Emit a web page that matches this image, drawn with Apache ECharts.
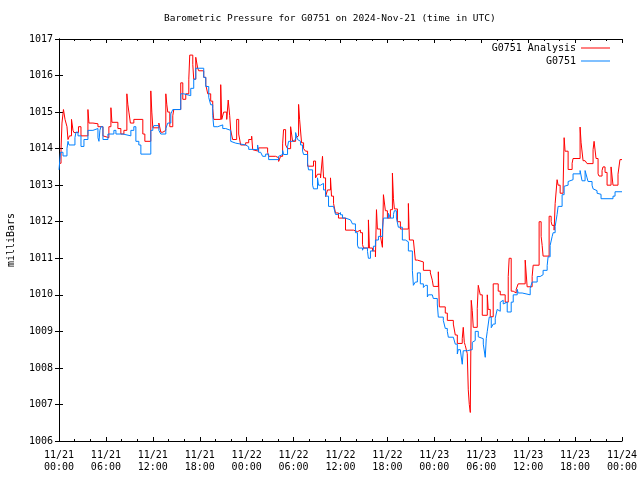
<!DOCTYPE html>
<html>
<head>
<meta charset="utf-8">
<script src="https://cdn.jsdelivr.net/npm/echarts@6/dist/echarts.min.js"></script>
<style>html,body{margin:0;padding:0;background:#fff}#c{width:640px;height:480px}</style>
</head>
<body>
<div id="c"></div>
<script>
// Hours since 2024-11-21 00:00 UTC and pressure (mb)
const analysisHours = [0,0.26,0.38,0.57,0.77,1.02,1.15,1.34,1.60,1.79,1.91,2.49,2.81,3.70,3.83,4.34,4.98,5.62,5.87,6.38,6.64,6.77,7.53,7.91,8.30,8.68,8.81,8.94,9.13,9.57,10.72,10.98,11.74,11.87,12.00,12.77,13.02,13.28,13.66,13.79,13.91,14.17,14.55,14.68,15.57,15.83,16.21,16.60,16.72,17.11,17.23,17.49,17.74,17.87,18.51,18.77,19.02,19.40,19.66,19.79,20.68,20.81,21.06,21.45,21.64,21.83,21.96,22.21,22.72,22.98,23.23,23.87,24.26,24.64,24.77,24.89,25.53,26.68,26.81,27.70,28.09,28.34,28.60,28.72,28.98,29.23,29.62,29.87,30.26,30.51,30.64,30.77,31.02,31.28,31.53,31.79,32.55,32.81,33.06,33.45,33.70,33.83,34.09,34.34,34.72,34.85,35.11,35.36,35.74,36.64,37.66,38.17,38.55,38.81,38.94,39.57,39.70,40.09,40.47,40.60,40.72,41.11,41.36,41.49,41.74,42.00,42.38,42.64,42.77,42.89,43.28,43.66,44.68,44.81,45.32,45.57,45.83,46.60,47.49,47.74,47.87,48.51,48.64,49.40,49.66,50.43,50.68,50.94,51.57,51.70,51.83,51.96,52.21,52.34,52.47,52.60,52.72,52.85,52.98,53.49,53.62,53.87,54.13,54.77,54.89,55.15,55.53,56.17,56.43,57.06,57.45,57.57,57.83,58.09,58.47,58.72,59.62,59.87,60.51,60.64,61.40,61.66,61.79,61.91,62.68,62.94,63.06,63.32,63.45,63.70,63.83,64.09,64.47,64.60,64.72,65.11,65.62,65.74,66.64,66.77,67.02,67.28,67.53,68.30,68.43,68.68,68.94,69.06,69.45,69.57,69.83,70.09,70.60,70.85,71.49,71.74,72.0];
const analysisValues = [1013.6,1014.0,1014.7,1015.07,1014.8,1014.6,1014.25,1014.35,1014.8,1014.5,1014.44,1014.6,1014.35,1015.07,1014.7,1014.68,1014.6,1014.35,1014.3,1014.6,1015.12,1014.72,1014.55,1014.4,1014.5,1015.5,1015.2,1015.0,1014.7,1014.8,1014.4,1014.2,1015.58,1015.0,1014.57,1014.7,1014.45,1014.5,1015.5,1015.2,1015.0,1014.6,1014.9,1015.07,1015.8,1015.35,1015.5,1015.9,1016.56,1016.3,1015.9,1016.5,1016.2,1016.13,1015.95,1015.75,1015.5,1015.3,1015.1,1014.8,1015.75,1014.8,1015.0,1014.8,1015.33,1014.9,1014.5,1014.25,1014.8,1014.4,1014.1,1014.16,1014.25,1014.34,1013.97,1013.93,1014.02,1013.9,1013.79,1013.75,1013.65,1013.79,1014.13,1014.52,1014.1,1014.0,1014.6,1014.2,1014.3,1014.35,1015.21,1014.8,1014.16,1014.0,1013.93,1013.52,1013.66,1013.2,1013.3,1013.2,1013.79,1013.2,1012.69,1012.87,1013.2,1012.7,1012.5,1012.24,1012.1,1011.77,1011.73,1011.77,1011.7,1011.38,1011.28,1012.05,1011.28,1011.2,1011.04,1012.33,1011.8,1011.6,1011.3,1012.74,1012.3,1012.1,1012.33,1013.33,1012.63,1012.35,1012.0,1011.8,1012.5,1011.5,1011.45,1010.95,1010.9,1010.67,1010.6,1010.4,1010.23,1010.63,1009.67,1009.5,1009.3,1009.2,1008.9,1008.67,1008.8,1009.11,1008.7,1008.61,1008.39,1007.4,1007.0,1006.78,1009.85,1009.57,1009.11,1009.63,1010.26,1010.0,1009.44,1010.0,1009.6,1009.4,1010.3,1010.1,1010.0,1009.8,1010.5,1011.0,1010.1,1010.05,1010.15,1010.3,1010.95,1010.22,1010.5,1010.81,1012.0,1011.6,1011.35,1011.06,1012.15,1012.0,1011.9,1011.77,1012.5,1013.15,1013.0,1012.78,1012.95,1014.3,1013.93,1013.43,1013.6,1013.73,1014.59,1014.16,1013.67,1013.7,1013.59,1013.97,1014.2,1013.73,1013.31,1013.25,1013.4,1013.5,1013.35,1013.0,1013.5,1013.0,1013.3,1013.7,1013.7];

const obsHours = [0,0.19,0.51,1.02,1.15,1.28,2.04,2.17,2.43,2.81,3.19,3.70,4.34,4.98,5.11,5.23,5.36,5.62,6.26,7.02,7.28,8.17,9.19,9.57,9.83,10.21,10.47,11.74,12.00,12.13,12.77,13.02,13.66,13.91,14.30,14.55,15.57,15.96,16.85,17.23,17.49,18.51,18.77,19.15,19.40,19.66,19.79,20.30,20.94,21.32,21.96,22.21,22.60,23.87,24.26,24.77,25.40,25.53,25.79,26.04,26.43,26.81,28.09,28.34,28.60,28.72,29.23,29.36,29.87,30.00,30.26,30.51,30.64,30.89,31.15,31.28,31.79,31.91,32.43,32.55,33.06,33.19,33.45,33.83,34.09,34.47,35.11,35.36,35.74,36.00,36.26,36.64,37.28,37.53,37.91,38.17,38.30,38.81,38.94,39.45,39.57,39.83,40.21,40.47,40.85,41.36,41.49,42.13,42.38,42.77,42.89,43.15,43.40,43.91,44.30,44.68,45.19,45.32,45.57,45.83,46.21,46.60,46.85,47.11,47.23,47.74,47.87,48.38,48.51,49.15,49.40,49.66,49.79,50.43,50.68,50.94,51.06,51.32,51.57,51.70,52.21,52.85,52.98,53.23,53.62,53.87,54.26,54.51,54.64,54.77,55.02,55.28,55.53,55.79,56.04,56.17,56.43,56.68,56.81,57.06,57.32,57.83,58.09,58.60,58.72,59.23,60.26,60.51,61.15,61.53,61.91,62.43,62.55,62.81,63.06,63.19,63.45,63.70,63.83,64.34,64.60,64.85,65.11,65.36,65.74,66.64,66.89,67.28,67.53,67.66,68.17,68.30,68.55,68.81,68.94,69.32,70.85,71.11,72.0];
const obsValues = [1013.42,1013.9,1013.8,1014.0,1014.2,1014.1,1014.3,1014.45,1014.35,1014.06,1014.25,1014.5,1014.55,1014.3,1014.2,1014.5,1014.6,1014.25,1014.4,1014.5,1014.4,1014.35,1014.5,1014.6,1014.2,1014.1,1013.85,1014.5,1014.57,1014.63,1014.5,1014.4,1014.55,1014.7,1014.95,1015.07,1015.5,1015.45,1015.65,1015.9,1016.2,1015.95,1015.7,1015.4,1015.2,1014.9,1014.6,1014.65,1014.55,1014.5,1014.2,1014.15,1014.1,1014.05,1013.98,1013.97,1014.1,1013.9,1013.93,1013.79,1013.85,1013.7,1013.79,1013.84,1013.95,1013.84,1014.05,1014.2,1014.15,1014.25,1014.44,1014.25,1014.2,1014.1,1013.93,1013.84,1013.6,1013.42,1013.0,1012.9,1013.2,1013.0,1013.05,1012.87,1012.7,1012.42,1012.38,1012.2,1012.25,1012.19,1012.1,1012.05,1012.1,1011.94,1011.7,1011.36,1011.28,1011.22,1011.28,1011.19,1011.0,1011.2,1011.33,1011.5,1011.6,1011.8,1012.1,1012.23,1012.1,1012.2,1012.3,1012.1,1011.85,1011.5,1011.45,1011.2,1010.67,1010.26,1010.35,1010.6,1010.3,1010.2,1010.26,1009.94,1010.0,1010.05,1009.9,1009.75,1009.39,1009.3,1009.08,1009.0,1008.84,1008.8,1008.65,1008.38,1008.5,1008.45,1008.1,1008.47,1008.5,1008.7,1008.75,1009.0,1008.85,1008.8,1008.65,1008.29,1008.8,1009.0,1009.39,1009.1,1009.2,1009.36,1009.6,1009.55,1009.8,1009.85,1009.75,1009.8,1009.53,1009.8,1010.0,1010.15,1010.05,1010.0,1010.18,1010.35,1010.5,1010.55,1010.67,1010.8,1011.04,1011.35,1011.59,1011.7,1011.87,1012.2,1012.42,1012.74,1012.97,1013.0,1013.1,1013.15,1013.31,1013.4,1013.12,1013.4,1013.2,1013.1,1013.0,1012.9,1012.85,1012.78,1012.75,1012.63,1012.7,1012.82,1012.82];

const seriesNames = ['G0751 Analysis', 'G0751'];
const titleText = 'Barometric Pressure for G0751 on 2024-Nov-21 (time in UTC)';
const yAxisTitle = 'milliBars';
const startDay = 21;

const FONT = '"DejaVu Sans Mono", "Liberation Mono", monospace';
const zip = (a, b) => a.map((h, i) => [h, b[i]]);
const fmtX = v => {
  const d = startDay + Math.floor(v / 24);
  const hh = String(Math.round(v % 24)).padStart(2, '0');
  return '11/' + d + '\n' + hh + ':00';
};
const tickBase = { show: true, inside: true, length: 4, lineStyle: { color: '#000' } };
const minorBase = { show: true, splitNumber: 3, length: 2, lineStyle: { color: '#000' } };
const legendText = { fontFamily: FONT, fontSize: 10, color: '#000' };

const chart = echarts.init(document.getElementById('c'), null, { renderer: 'canvas' });
chart.setOption({
  animation: false,
  backgroundColor: '#fff',
  textStyle: { fontFamily: FONT },
  title: {
    text: titleText, left: 164, top: 14, padding: 0,
    textStyle: { fontFamily: FONT, fontSize: 9.5, fontWeight: 'normal', color: '#000' }
  },
  legend: [
    { data: [seriesNames[0]], right: 30, top: 43, padding: 0, align: 'right', itemWidth: 29, itemHeight: 1,
      icon: 'rect', textStyle: legendText },
    { data: [seriesNames[1]], right: 30, top: 56, padding: 0, align: 'right', itemWidth: 29, itemHeight: 1,
      icon: 'rect', textStyle: legendText }
  ],
  grid: { left: 59, right: 18, top: 39, bottom: 39, outerBoundsMode: 'none', containLabel: false },
  xAxis: [
    { type: 'value', min: 0, max: 72, interval: 6, position: 'bottom',
      axisLine: { show: true, lineStyle: { color: '#000' } },
      axisTick: tickBase, minorTick: minorBase, splitLine: { show: false },
      axisLabel: { formatter: fmtX, fontFamily: FONT, fontSize: 10, color: '#000', margin: 8, lineHeight: 12 } },
    { type: 'value', min: 0, max: 72, interval: 6, position: 'top',
      axisLine: { show: true, lineStyle: { color: '#000' } },
      axisTick: tickBase, minorTick: minorBase, splitLine: { show: false },
      axisLabel: { show: false } }
  ],
  yAxis: [
    { type: 'value', min: 1006, max: 1017, interval: 1, position: 'left',
      name: yAxisTitle, nameLocation: 'middle', nameGap: 43, nameRotate: 90,
      nameTextStyle: { fontFamily: FONT, fontSize: 10, color: '#000' },
      axisLine: { show: true, lineStyle: { color: '#000' } },
      axisTick: tickBase, splitLine: { show: false },
      axisLabel: { formatter: v => String(v), fontFamily: FONT, fontSize: 10, color: '#000', margin: 6 } },
    { type: 'value', min: 1006, max: 1017, interval: 1, position: 'right',
      axisLine: { show: true, lineStyle: { color: '#000' } },
      axisTick: tickBase, splitLine: { show: false },
      axisLabel: { show: false } }
  ],
  series: [
    { name: seriesNames[0], type: 'line', step: 'end', symbol: 'none', color: '#ff0000',
      lineStyle: { width: 1, color: '#ff0000' }, data: zip(analysisHours, analysisValues), z: 2 },
    { name: seriesNames[1], type: 'line', step: 'end', symbol: 'none', color: '#0080ff',
      lineStyle: { width: 1, color: '#0080ff' }, data: zip(obsHours, obsValues), z: 3 }
  ]
});
</script>
</body>
</html>
